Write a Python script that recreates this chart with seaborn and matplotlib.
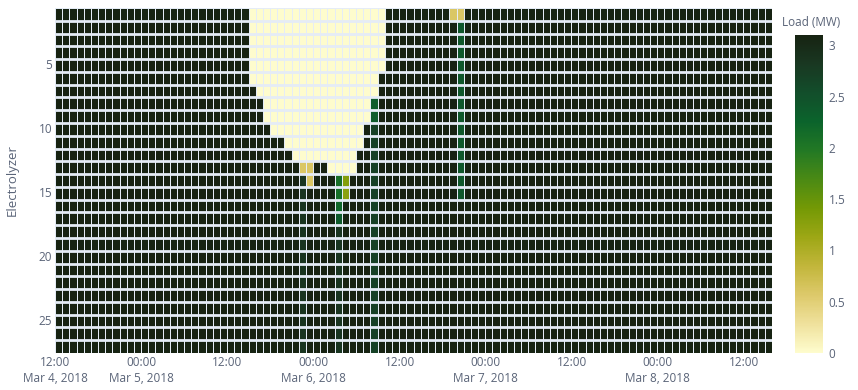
import numpy as np
import pandas as pd
import matplotlib
matplotlib.use("Agg")
import matplotlib.pyplot as plt
from matplotlib.colors import LinearSegmentedColormap
import seaborn as sns

# ---- data -------------------------------------------------------------
n_units = 27
times = pd.date_range("2018-03-04 12:00", periods=100, freq="h")
full_load = 3.1  # MW, rated load of each electrolyzer

# Idle window (load 0) per electrolyzer 1..13: first and last hour index
idle_units = [1, 2, 3, 4, 5, 6, 7, 8, 9, 10, 11, 12, 13]
idle_first = [27, 27, 27, 27, 27, 27, 28, 29, 29, 30, 32, 33, 38]
idle_last = [45, 45, 45, 45, 45, 44, 44, 43, 43, 42, 42, 41, 41]

# Part-load hours: electrolyzer, hour index, load (MW)
part_unit = [1, 1, 13, 13, 14, 14, 15, 14, 15, 16, 17, 8, 9]
part_hour = [55, 56, 34, 35, 35, 39, 39, 40, 40, 39, 39, 44, 44]
part_load = [0.6, 0.6, 0.6, 0.6, 0.6, 2.1, 2.1, 1.3, 1.25, 2.2, 2.35, 2.35, 2.35]

# Electrolyzers 2..15 running slightly below rating at hour 56
dip56_units = list(range(2, 16))
dip56_load = 2.4
# Slight derating at hours 34, 39 and 44 on the lower units
derate_hours = [34, 39, 44]
derate_from = [14, 18, 10]
derate_load = [2.85, 2.85, 2.7]

# ---- build the load matrix -------------------------------------------
load = np.full((n_units, len(times)), full_load)
for h, first, val in zip(derate_hours, derate_from, derate_load):
    load[first - 1:, h] = val
for u in dip56_units:
    load[u - 1, 56] = dip56_load
for u, a, b in zip(idle_units, idle_first, idle_last):
    load[u - 1, a:b + 1] = 0.0
for u, h, v in zip(part_unit, part_hour, part_load):
    load[u - 1, h] = v

df = pd.DataFrame(load, index=range(1, n_units + 1), columns=times)

# ---- colour scale (cmocean "speed") -----------------------------------
speed = ["#fefccd", "#efe19c", "#ddc96a", "#c2b63b", "#9da715", "#749905",
         "#4b8a14", "#237924", "#0b642c", "#124e2b", "#193822", "#172312"]
cmap = LinearSegmentedColormap.from_list("speed", speed)

# ---- figure -------------------------------------------------------------
sns.set_theme(style="white")
plt.rcParams["font.family"] = ["Open Sans", "DejaVu Sans"]
label_col = "#5a6478"
gap_col = "#e5ecf6"

fig = plt.figure(figsize=(8.58, 3.90), dpi=100)
ax = fig.add_axes([55 / 858, 37 / 390, 717 / 858, 345 / 390])
cax = fig.add_axes([795 / 858, 37 / 390, 28 / 858, 318 / 390])

sns.heatmap(df, ax=ax, cbar_ax=cax, cmap=cmap, vmin=0, vmax=full_load,
            linewidths=0.45, linecolor=gap_col,
            cbar_kws={"ticks": [0, 0.5, 1, 1.5, 2, 2.5, 3]})

# wider gaps between electrolyzer rows
for r in range(1, n_units):
    ax.axhline(r, color=gap_col, lw=2.0)

# x ticks every 12 hours
tick_idx = list(range(0, len(times), 12))
tick_lab = []
for i in tick_idx:
    t = times[i]
    if t.hour == 0 or i == 0:
        tick_lab.append(t.strftime("%H:%M") + "\n" + f"{t:%b} {t.day}, {t.year}")
    else:
        tick_lab.append(t.strftime("%H:%M"))
ax.set_xticks([i + 0.05 for i in tick_idx])
ax.set_xticklabels(tick_lab, rotation=0, color=label_col, fontsize=8.5,
                   linespacing=1.35)

y_show = [5, 10, 15, 20, 25]
ax.set_yticks([u - 0.5 for u in y_show])
ax.set_yticklabels([str(u) for u in y_show], rotation=0, color=label_col,
                   fontsize=8.5)
ax.tick_params(axis="both", length=0, pad=2)
ax.set_xlabel("")
ax.set_ylabel("Electrolyzer", color=label_col, fontsize=9.5, labelpad=14)

cax.tick_params(length=0, labelsize=8.5, labelcolor=label_col, pad=4)
cax.set_frame_on(False)
cax.set_yticklabels(["0", "0.5", "1", "1.5", "2", "2.5", "3"])
fig.text(782 / 858, 1 - 22 / 390, "Load (MW)", color=label_col, fontsize=8.5,
         ha="left", va="center")

fig.savefig("out.png", dpi=100)
